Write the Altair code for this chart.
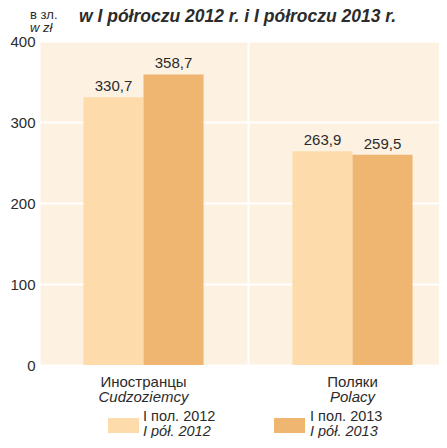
import altair as alt
import pandas as pd

groups_ru = ["Иностранцы", "Поляки"]
groups_pl = ["Cudzoziemcy", "Polacy"]
periods = ["2012", "2013"]
values_2012 = [330.7, 263.9]
values_2013 = [358.7, 259.5]
y_ticks = [0, 100, 200, 300, 400]

title_text = "w I półroczu 2012 r. i I półroczu 2013 r."
unit_ru = "в зл."
unit_pl = "w zł"
legend_ru = ["I пол. 2012", "I пол. 2013"]
legend_pl = ["I pół. 2012", "I pół. 2013"]
colors = ["#FDDBAA", "#EFB672"]

FONT = "Liberation Sans Narrow, Arial Narrow, Liberation Sans, Arial, sans-serif"
TXT = "#2b2b2b"
FS = 15

rows = []
for i, g in enumerate(groups_ru):
    for p, vals in zip(periods, [values_2012, values_2013]):
        v = vals[i]
        rows.append({"group": g, "group_pl": groups_pl[i], "period": p,
                     "value": v, "label": f"{v:.1f}".replace(".", ",")})
df = pd.DataFrame(rows)
cats = pd.DataFrame({"group": groups_ru, "group_pl": groups_pl})

W, H = 400, 324
xscale = alt.Scale(domain=groups_ru, range=[0, 418], paddingInner=0, paddingOuter=0)
xoff = alt.Scale(domain=periods, paddingInner=0, paddingOuter=0.74)
yscale = alt.Scale(domain=[0, 400], nice=False)

x_enc = alt.X("group:N", scale=xscale, sort=groups_ru,
              axis=alt.Axis(title=None, labels=False, ticks=False, domain=False,
                            grid=True, gridColor="white", gridWidth=2, bandPosition=0))
y_enc = alt.Y("value:Q", scale=yscale,
              axis=alt.Axis(title=None, values=y_ticks, domain=False, ticks=False,
                            grid=True, gridColor="white", gridWidth=2,
                            labelFont=FONT, labelFontSize=FS, labelColor=TXT,
                            labelPadding=4, labelFlush=False))
color_enc = alt.Color("period:N", scale=alt.Scale(domain=periods, range=colors), legend=None)

bars = alt.Chart(df).mark_bar().encode(
    x=x_enc, xOffset=alt.XOffset("period:N", scale=xoff), y=y_enc, color=color_enc)

labels = alt.Chart(df).mark_text(baseline="alphabetic", dy=-6, font=FONT,
                                 fontSize=FS, color=TXT).encode(
    x=alt.X("group:N", scale=xscale, sort=groups_ru),
    xOffset=alt.XOffset("period:N", scale=xoff),
    y=alt.Y("value:Q", scale=yscale), text="label:N")

cat1 = alt.Chart(cats).mark_text(baseline="alphabetic", font=FONT, fontSize=FS,
                                 color=TXT).encode(
    x=alt.X("group:N", scale=xscale, sort=groups_ru), y=alt.value(H + 22), text="group:N")
cat2 = alt.Chart(cats).mark_text(baseline="alphabetic", font=FONT, fontSize=FS,
                                 fontStyle="italic", color=TXT).encode(
    x=alt.X("group:N", scale=xscale, sort=groups_ru), y=alt.value(H + 37), text="group_pl:N")

one = pd.DataFrame({"a": [0]})
title = alt.Chart(one).mark_text(align="left", baseline="alphabetic", font=FONT,
                                 fontSize=17.5, fontWeight="bold", fontStyle="italic",
                                 color=TXT).encode(
    x=alt.value(40), y=alt.value(-19), text=alt.value(title_text))
u1 = alt.Chart(one).mark_text(align="left", baseline="alphabetic", font=FONT,
                              fontSize=13, color=TXT).encode(
    x=alt.value(-9), y=alt.value(-22), text=alt.value(unit_ru))
u2 = alt.Chart(one).mark_text(align="left", baseline="alphabetic", font=FONT,
                              fontSize=13, fontStyle="italic", color=TXT).encode(
    x=alt.value(-9), y=alt.value(-9), text=alt.value(unit_pl))

leg_layers = []
for sx, tx, col, r, p in [(69, 104, colors[0], legend_ru[0], legend_pl[0]),
                          (235, 271, colors[1], legend_ru[1], legend_pl[1])]:
    leg_layers.append(alt.Chart(one).mark_rect(color=col).encode(
        x=alt.value(sx), x2=alt.value(sx + 31), y=alt.value(377), y2=alt.value(392)))
    leg_layers.append(alt.Chart(one).mark_text(align="left", baseline="alphabetic",
                                               font=FONT, fontSize=14.5, color=TXT).encode(
        x=alt.value(tx), y=alt.value(380), text=alt.value(r)))
    leg_layers.append(alt.Chart(one).mark_text(align="left", baseline="alphabetic",
                                               font=FONT, fontSize=14.5, fontStyle="italic",
                                               color=TXT).encode(
        x=alt.value(tx), y=alt.value(395), text=alt.value(p)))

chart = alt.layer(bars, labels, cat1, cat2, title, u1, u2, *leg_layers).resolve_scale(
    xOffset="shared").properties(
    width=W, height=H,
    autosize=alt.AutoSizeParams(type="none"),
    padding={"left": 31, "top": 33, "right": 0, "bottom": 73},
).configure_view(stroke=None, fill="#FDF1E1")

chart.save("out.html", embed_options={"renderer": "svg", "actions": False})
